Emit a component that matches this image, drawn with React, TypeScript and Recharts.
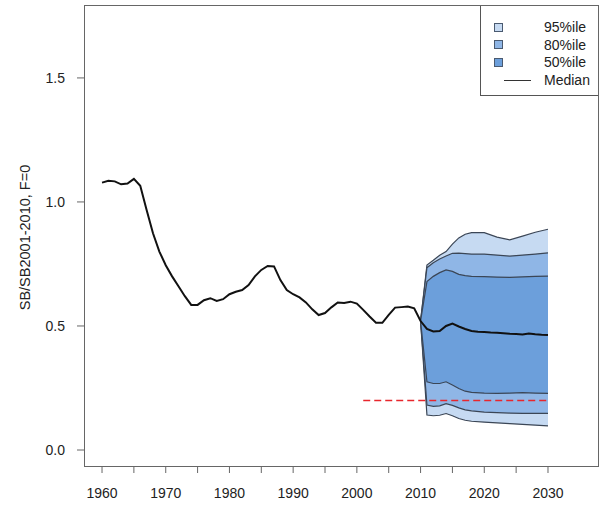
import { ComposedChart, Area, Line, XAxis, YAxis, Legend } from "recharts";

// median spawning biomass ratio, 1960-2030 (historical + projected median)
const medianYears = [
  1960, 1961, 1962, 1963, 1964, 1965, 1966, 1967, 1968, 1969, 1970, 1971, 1972,
  1973, 1974, 1975, 1976, 1977, 1978, 1979, 1980, 1981, 1982, 1983, 1984, 1985,
  1986, 1987, 1988, 1989, 1990, 1991, 1992, 1993, 1994, 1995, 1996, 1997, 1998,
  1999, 2000, 2001, 2002, 2003, 2004, 2005, 2006, 2007, 2008, 2009, 2010, 2011,
  2012, 2013, 2014, 2015, 2016, 2017, 2018, 2019, 2020, 2021, 2022, 2023, 2024,
  2025, 2026, 2027, 2028, 2029, 2030,
];
const medianValues = [
  1.078, 1.085, 1.083, 1.071, 1.074, 1.093, 1.065, 0.968, 0.874, 0.8, 0.745,
  0.7, 0.66, 0.62, 0.585, 0.585, 0.604, 0.612, 0.601, 0.608, 0.628, 0.638,
  0.645, 0.665, 0.7, 0.726, 0.742, 0.74, 0.685, 0.645, 0.628, 0.615, 0.595,
  0.567, 0.544, 0.552, 0.575, 0.595, 0.593, 0.598, 0.59, 0.565, 0.538, 0.513,
  0.513, 0.545, 0.574, 0.576, 0.578, 0.571, 0.52, 0.488, 0.478, 0.48, 0.5,
  0.51, 0.498, 0.488, 0.48, 0.477, 0.476, 0.474, 0.473, 0.471, 0.469, 0.468,
  0.466, 0.47, 0.467, 0.465, 0.464,
];

// projection percentile bands
const projYears = [2010, 2011, 2012, 2013, 2014, 2015, 2016, 2017, 2018, 2020, 2022, 2024, 2026, 2028, 2030];
const upper95 = [0.52, 0.746, 0.765, 0.785, 0.8, 0.83, 0.855, 0.87, 0.876, 0.876, 0.858, 0.847, 0.862, 0.878, 0.89];
const upper80 = [0.52, 0.735, 0.755, 0.77, 0.782, 0.793, 0.794, 0.792, 0.79, 0.79, 0.786, 0.782, 0.786, 0.79, 0.795];
const upper50 = [0.52, 0.679, 0.7, 0.715, 0.726, 0.72, 0.708, 0.703, 0.7, 0.699, 0.697, 0.696, 0.698, 0.7, 0.701];
const lower50 = [0.52, 0.275, 0.268, 0.268, 0.275, 0.262, 0.248, 0.237, 0.232, 0.229, 0.228, 0.229, 0.231, 0.229, 0.228];
const lower80 = [0.52, 0.181, 0.176, 0.178, 0.187, 0.18, 0.17, 0.162, 0.158, 0.153, 0.151, 0.149, 0.148, 0.148, 0.148];
const lower95 = [0.52, 0.141, 0.138, 0.14, 0.147, 0.138, 0.127, 0.12, 0.116, 0.112, 0.109, 0.106, 0.103, 0.1, 0.097];

// limit reference (red dashed)
const limitYears = [2001, 2030];
const limitValue = 0.2;

const xTicks = [1960, 1965, 1970, 1975, 1980, 1985, 1990, 1995, 2000, 2005, 2010, 2015, 2020, 2025, 2030];
const yTicks = [0, 0.5, 1, 1.5];
const legendLabels = ["95%ile", "80%ile", "50%ile", "Median"];

const FONT = "'Liberation Sans', Arial, sans-serif";
const bandColors = ["#c6daf2", "#8fb6e6", "#6c9fdb"];
const edgeColor = "#3b4656";

const medianData = medianYears.map((year, i) => ({ year, value: medianValues[i] }));
const bandData = projYears.map((year, i) => ({
  year,
  b95: [lower95[i], upper95[i]],
  b80: [lower80[i], upper80[i]],
  b50: [lower50[i], upper50[i]],
}));
const limitData = limitYears.map((year) => ({ year, value: limitValue }));

function LegendBox() {
  return (
    <div
      style={{
        width: 117,
        height: 89,
        border: "1px solid #555",
        background: "#fff",
        fontFamily: FONT,
        fontSize: 14,
        color: "#222",
        position: "relative",
      }}
    >
      {legendLabels.map((label, i) => (
        <div
          key={label}
          style={{
            position: "absolute",
            top: 13 + i * 17.7,
            left: 0,
            width: "100%",
            height: 16,
            display: "flex",
            alignItems: "center",
          }}
        >
          {i < 3 ? (
            <span
              style={{
                marginLeft: 13,
                width: 7,
                height: 7,
                background: bandColors[i],
                border: "1px solid #4a5a70",
              }}
            />
          ) : (
            <span style={{ marginLeft: 23, width: 27, height: 0, borderTop: "1.5px solid #333" }} />
          )}
          <span style={{ position: "absolute", left: 63, lineHeight: "16px" }}>{label}</span>
        </div>
      ))}
    </div>
  );
}

export default function App() {
  return (
    <div style={{ position: "absolute", left: 0, top: 0, width: 605, height: 506, background: "#fff" }}>
      <ComposedChart
        width={605}
        height={506}
        margin={{ top: 5, right: 7, bottom: 0, left: 0 }}
      >
        <XAxis
          dataKey="year"
          type="number"
          domain={[1957.17, 2037.85]}
          ticks={xTicks}
          allowDataOverflow
          axisLine={false}
          tickLine={{ stroke: "#666" }}
          tickSize={7}
          tickMargin={15}
          height={40}
          tickFormatter={(v: number) => (v % 10 === 0 ? String(v) : "")}
          tick={{ fill: "#222", fontSize: 14, fontFamily: FONT }}
        />
        <YAxis
          type="number"
          domain={[-0.0645, 1.794]}
          ticks={yTicks}
          allowDataOverflow
          axisLine={false}
          tickLine={{ stroke: "#666" }}
          tickSize={7}
          tickMargin={12}
          width={84}
          tickFormatter={(v: number) => v.toFixed(1)}
          tick={{ fill: "#222", fontSize: 14, fontFamily: FONT }}
          label={{
            content: (props: any) => {
              const vb = props.viewBox || { x: 0, y: 5, height: 461 };
              const cx = vb.x + 25;
              const cy = vb.y + vb.height / 2 + 2;
              return (
                <text
                  x={cx}
                  y={cy}
                  transform={`rotate(-90 ${cx} ${cy})`}
                  textAnchor="middle"
                  dominantBaseline="central"
                  fill="#222"
                  fontSize={14.5}
                  fontFamily={FONT}
                >
                  SB/SB2001-2010, F=0
                </text>
              );
            },
          }}
        />
        <Area
          data={bandData}
          dataKey="b95"
          type="linear"
          fill={bandColors[0]}
          fillOpacity={1}
          stroke={edgeColor}
          strokeWidth={1.2}
          isAnimationActive={false}
        />
        <Area
          data={bandData}
          dataKey="b80"
          type="linear"
          fill={bandColors[1]}
          fillOpacity={1}
          stroke={edgeColor}
          strokeWidth={1.2}
          isAnimationActive={false}
        />
        <Area
          data={bandData}
          dataKey="b50"
          type="linear"
          fill={bandColors[2]}
          fillOpacity={1}
          stroke={edgeColor}
          strokeWidth={1.2}
          isAnimationActive={false}
        />
        <Line
          data={limitData}
          dataKey="value"
          type="linear"
          stroke="#e8262c"
          strokeWidth={1.5}
          strokeDasharray="7 4"
          dot={false}
          isAnimationActive={false}
        />
        <Line
          data={medianData}
          dataKey="value"
          type="linear"
          stroke="#111"
          strokeWidth={2}
          dot={false}
          isAnimationActive={false}
        />
        <Legend
          layout="vertical"
          align="center"
          verticalAlign="middle"
          wrapperStyle={{ position: "absolute", top: 5, left: 480, width: 119, height: 91 }}
          content={() => <LegendBox />}
        />
      </ComposedChart>
      <div
        style={{
          position: "absolute",
          left: 84,
          top: 5,
          width: 513,
          height: 460,
          border: "1px solid #666",
          pointerEvents: "none",
        }}
      />
    </div>
  );
}
